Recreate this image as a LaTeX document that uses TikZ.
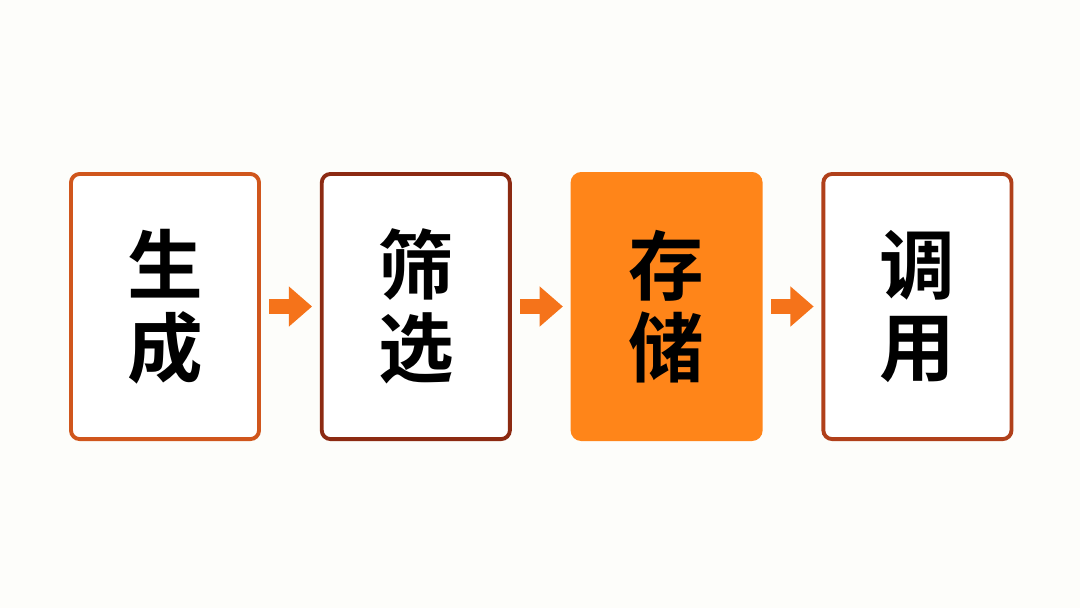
\documentclass[tikz,border=0pt]{standalone}
\usepackage{fontspec}
\newfontfamily\cjk{Noto Sans CJK SC}[BoldFont={* Bold}]
\usetikzlibrary{arrows.meta}
\definecolor{edgeA}{HTML}{D0561C}
\definecolor{edgeB}{HTML}{8C2A12}
\definecolor{edgeC}{HTML}{B0401A}
\definecolor{stageFill}{HTML}{FF8519}
\definecolor{flowCol}{HTML}{F5731A}
\definecolor{paper}{HTML}{FDFDFA}
\tikzset{
  stage/.style={draw, line width=1.1pt, rounded corners=2.5pt,
    minimum width=1.88cm, minimum height=2.65cm, align=center,
    font=\cjk\bfseries\fontsize{21.5}{23.5}\selectfont},
  flow/.style={line width=4.2pt, flowCol, shorten <=2.4pt, shorten >=2.2pt,
    -{Triangle[length=6.6pt, width=11pt]}}
}
\begin{document}
\begin{tikzpicture}[x=0.01cm, y=-0.01cm]
\fill[paper] (0,0) rectangle (1080,608);
\useasboundingbox (0,0) rectangle (1080,608);

% the four stages
\foreach \n/\t/\c/\f [count=\i] in {gen/生\\成/edgeA/white, filt/筛\\选/edgeB/white,
    store/存\\储/stageFill/stageFill, call/调\\用/edgeC/white} {
  \node[stage, draw=\c, fill=\f] (\n) at ({165+250.8*(\i-1)}, 306.5) {\t};
}

% arrows between stages
\foreach \a/\b in {gen/filt, filt/store, store/call} {
  \draw[flow] (\a) -- (\b);
}
\end{tikzpicture}
\end{document}
